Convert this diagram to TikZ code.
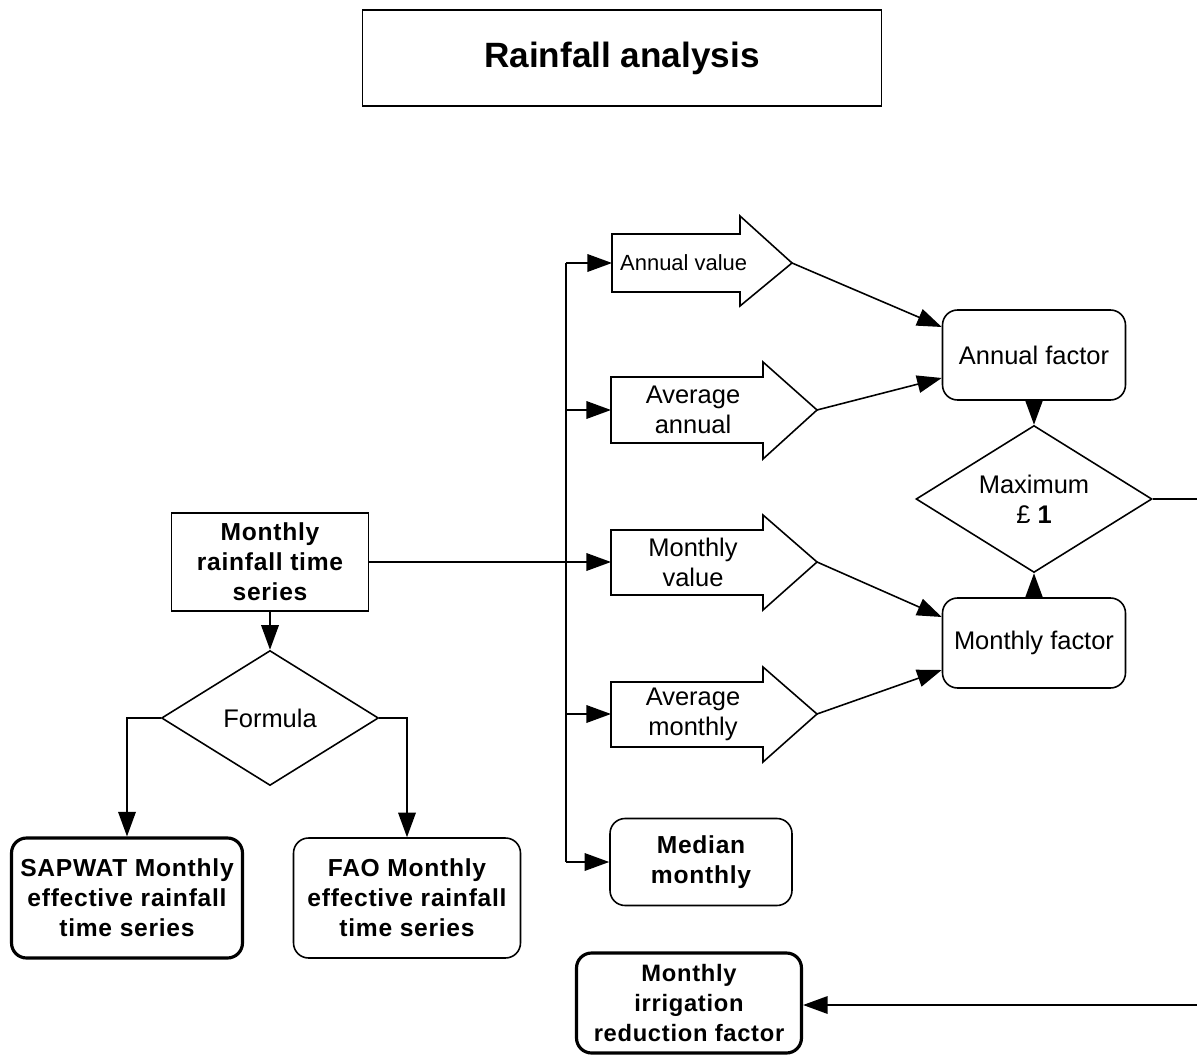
\documentclass[tikz,border=0pt]{standalone}
\usepackage{fontspec}
\setmainfont{Liberation Sans}
\usetikzlibrary{arrows.meta,shapes.geometric,calc}

\tikzset{
  txt/.style={font=\fontsize{14.5}{17}\selectfont, align=center},
  btxt/.style={font=\fontsize{14}{17}\selectfont\bfseries\addfontfeatures{LetterSpace=3}, align=center},
  box/.style={draw, line width=0.9pt, inner sep=0pt},
  rbox/.style={box, rounded corners=0.3cm},
  thickbox/.style={rbox, line width=1.8pt},
  decision/.style={draw, diamond, line width=0.9pt, inner sep=0pt, aspect=1.6},
  line/.style={line width=0.9pt},
  arr/.style={line, -{Triangle[length=14pt,width=10pt]}}
}

\begin{document}
\begin{tikzpicture}[x=0.02cm, y=-0.02cm]
\useasboundingbox (0,0) rectangle (1197,1061);

% title
\node[box, line width=0.6pt, minimum width=10.38cm, minimum height=1.92cm,
  font=\fontsize{20}{24}\selectfont\bfseries] (title) at (622,58) {Rainfall analysis};

% left part
\node[box, btxt, minimum width=3.94cm, minimum height=1.96cm] (mrts) at (270,562) {Monthly\\rainfall time\\series};
\node[decision, txt, minimum width=4.34cm, minimum height=2.7cm] (formula) at (270,718) {Formula};
\node[thickbox, btxt, minimum width=4.62cm, minimum height=2.4cm] (sapwat) at (127,898) {SAPWAT Monthly\\effective rainfall\\time series};
\node[rbox, btxt, minimum width=4.54cm, minimum height=2.4cm] (fao) at (407,898) {FAO Monthly\\effective rainfall\\time series};

\draw[arr] (mrts) -- (formula);
\draw[arr] (formula.west) -| (sapwat.north);
\draw[arr] (formula.east) -| (fao.north);

% fat arrows
\draw[line] (612,234) -- (740,234) -- (740,216) -- (792,263) -- (740,306) -- (740,292) -- (612,292) -- cycle;
\node[txt, font=\fontsize{12.5}{15}\selectfont, anchor=west] (annval) at (614,263) {Annual value};
\coordinate (annval-w) at (612,263);
\coordinate (annval-tip) at (792,263);

\draw[line] (611,377) -- (763,377) -- (763,362) -- (817,410) -- (763,459) -- (763,443) -- (611,443) -- cycle;
\node[txt] (avgann) at (693,410) {Average\\annual};
\coordinate (avgann-w) at (611,410);
\coordinate (avgann-tip) at (817,410);

\draw[line] (611,530) -- (763,530) -- (763,515) -- (817,562) -- (763,610) -- (763,595) -- (611,595) -- cycle;
\node[txt] (monval) at (693,562) {Monthly\\value};
\coordinate (monval-w) at (611,562);
\coordinate (monval-tip) at (817,562);

\draw[line] (611,682) -- (763,682) -- (763,667) -- (817,714) -- (763,762) -- (763,747) -- (611,747) -- cycle;
\node[txt] (avgmon) at (693,714) {Average\\monthly};
\coordinate (avgmon-w) at (611,714);
\coordinate (avgmon-tip) at (817,714);

\node[rbox, btxt, minimum width=3.64cm, minimum height=1.74cm] (median) at (701,862) {Median\\monthly};

% trunk
\coordinate (trunk-top) at (566,263);
\coordinate (trunk-bot) at (566,862);
\draw[line] (trunk-top) -- (trunk-bot);
\draw[arr] (mrts.east) -- (monval-w);
\draw[arr] (trunk-top) -- (annval-w);
\draw[arr] (trunk-top |- avgann-w) -- (avgann-w);
\draw[arr] (trunk-top |- avgmon-w) -- (avgmon-w);
\draw[arr] (trunk-bot) -- (median.west);

% factors
\node[rbox, txt, minimum width=3.66cm, minimum height=1.8cm] (annf) at (1034,355) {Annual factor};
\node[rbox, txt, minimum width=3.66cm, minimum height=1.8cm] (monf) at (1034,643) {Monthly factor};
\node[decision, txt, minimum width=4.72cm, minimum height=2.94cm] (maxd) at (1034,499) {Maximum\\£ \textbf{1}};

\draw[arr] (annval-tip) -- ($(annf.west)+(0,-28)$);
\draw[arr] (avgann-tip) -- ($(annf.west)+(0,23)$);
\draw[arr] (monval-tip) -- ($(monf.west)+(0,-26)$);
\draw[arr] (avgmon-tip) -- ($(monf.west)+(0,27)$);
\draw[arr] (annf) -- (maxd.north);
\draw[arr] (monf) -- (maxd.south);

% reduction factor
\node[thickbox, btxt, font=\fontsize{13.5}{17}\selectfont\bfseries\addfontfeatures{LetterSpace=3}, minimum width=4.5cm, minimum height=2cm] (irf) at (689,1003) {Monthly\\irrigation\\reduction factor};
\coordinate (edge-top) at (1197,499);
\coordinate (edge-bot) at (1197,1005);
\draw[line] (maxd.east) -- (edge-top);
\draw[arr] (edge-bot) -- (irf.east |- edge-bot);
\end{tikzpicture}
\end{document}
